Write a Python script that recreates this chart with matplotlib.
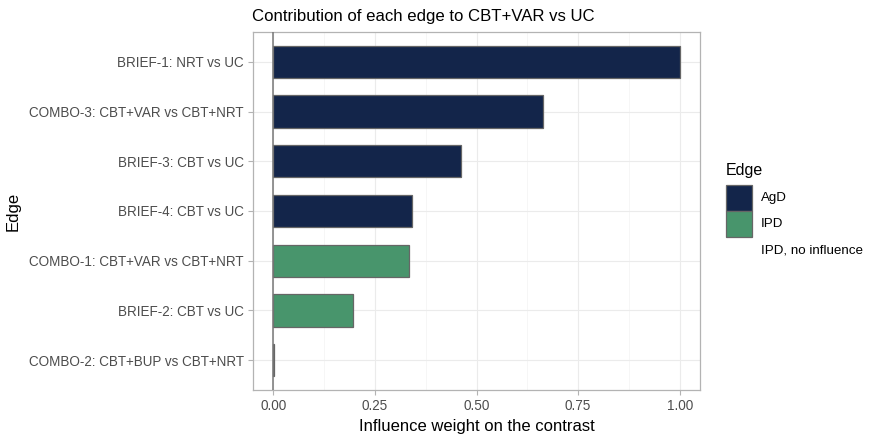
import matplotlib.pyplot as plt
from matplotlib.patches import Rectangle

plt.rcParams['font.family'] = ['Liberation Sans', 'DejaVu Sans']

# data, top to bottom
edges = ["BRIEF-1: NRT vs UC", "COMBO-3: CBT+VAR vs CBT+NRT", "BRIEF-3: CBT vs UC",
         "BRIEF-4: CBT vs UC", "COMBO-1: CBT+VAR vs CBT+NRT", "BRIEF-2: CBT vs UC",
         "COMBO-2: CBT+BUP vs CBT+NRT"]
weights = [1.0, 0.664, 0.461, 0.341, 0.334, 0.197, 0.002]
groups = ["AgD", "AgD", "AgD", "AgD", "IPD", "IPD", "IPD, no influence"]
group_names = ["AgD", "IPD", "IPD, no influence"]
group_colors = {"AgD": "#13254a", "IPD": "#48956c", "IPD, no influence": "none"}
xticks = [0, 0.25, 0.5, 0.75, 1.0]
xticklabels = ["0.00", "0.25", "0.50", "0.75", "1.00"]

W, H = 880, 440
fig = plt.figure(figsize=(W / 100, H / 100), dpi=100)
ax = fig.add_axes([253 / W, 1 - 390 / H, 447 / W, 358 / H])

n = len(edges)
ypos = [n - i for i in range(n)]
for i in range(n):
    ax.barh(ypos[i], weights[i], height=0.65, color=group_colors[groups[i]],
            edgecolor="#666666", linewidth=0.9, zorder=3)
ax.axvline(0, color="#777777", linewidth=1.1, zorder=4)

ax.set_xlim(-0.05, 1.05)
ax.set_ylim(0.4, n + 0.6)
ax.set_yticks(ypos)
ax.set_yticklabels(edges)
ax.set_xticks(xticks)
ax.set_xticklabels(xticklabels)
ax.set_xticks([0.125, 0.375, 0.625, 0.875], minor=True)
ax.grid(which="major", color="#ebebeb", linewidth=0.8, zorder=0)
ax.grid(which="minor", axis="x", color="#f3f3f3", linewidth=0.5, zorder=0)
ax.set_axisbelow(True)
for s in ax.spines.values():
    s.set_color("#b3b3b3")
    s.set_linewidth(0.9)
ax.tick_params(axis="both", which="major", colors="#b3b3b3", labelcolor="#4d4d4d",
               labelsize=9.75, length=3.5, width=0.8, pad=3)
ax.tick_params(which="minor", length=0)

ax.set_xlabel("Influence weight on the contrast", fontsize=12, labelpad=4)
ax.set_ylabel("Edge", fontsize=12, labelpad=6)
ax.set_title("Contribution of each edge to CBT+VAR vs UC", fontsize=12.1, loc="left",
             x=-0.002, pad=8)

# legend drawn by hand so the keys get ggplot's size
key_x, key_top, key_w, key_h = 726, 185, 26, 26
fig.text(key_x / W, 1 - 170 / H, "Edge", fontsize=11.5, ha="left", va="center")
for k, g in enumerate(group_names):
    top = key_top + k * key_h
    if g != "IPD, no influence":
        fig.add_artist(Rectangle((key_x / W, 1 - (top + key_h) / H), key_w / W, key_h / H,
                                 transform=fig.transFigure, facecolor=group_colors[g],
                                 edgecolor="#666666", linewidth=0.9))
    fig.text(761 / W, 1 - (top + key_h / 2) / H, g, fontsize=9.6, ha="left", va="center")

fig.savefig("out.png", dpi=100)
